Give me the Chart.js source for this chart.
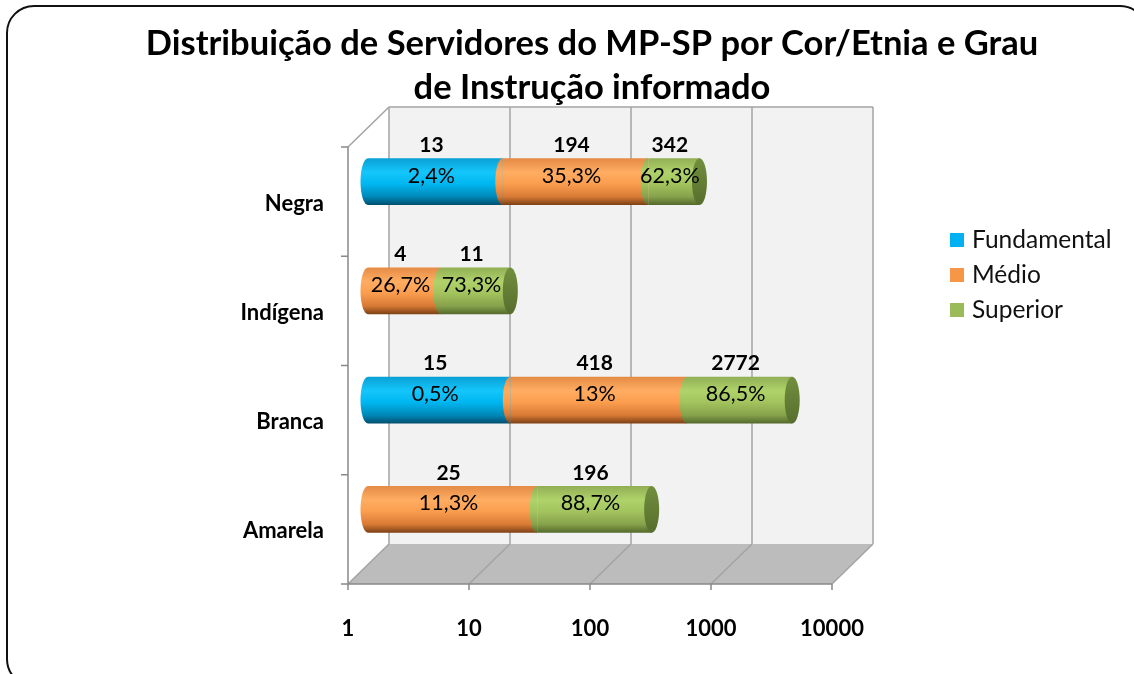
<!DOCTYPE html>
<html><head><meta charset="utf-8">
<script src="https://cdn.jsdelivr.net/npm/chart.js@4.4.1/dist/chart.umd.min.js"></script>
<style>html,body{margin:0;padding:0;background:#fff;overflow:hidden}#wrap{width:1134px;height:674px;position:relative}</style>
</head><body><div id="wrap"><canvas id="c" width="1134" height="674"></canvas></div>
<script>
const categories = ['Negra', 'Indígena', 'Branca', 'Amarela'];
const seriesNames = ['Fundamental', 'Médio', 'Superior'];
const fundamental = [13, null, 15, null];
const medio = [194, 4, 418, 25];
const superior = [342, 11, 2772, 196];
const fundamentalPct = ['2,4%', null, '0,5%', null];
const medioPct = ['35,3%', '26,7%', '13%', '11,3%'];
const superiorPct = ['62,3%', '73,3%', '86,5%', '88,7%'];
const xTicks = [1, 10, 100, 1000, 10000];
const titleLines = ['Distribuição de Servidores do MP-SP por Cor/Etnia e Grau', 'de Instrução informado'];

const FONT = 'Lato, "Open Sans", sans-serif';
const series = [fundamental, medio, superior];
const pcts = [fundamentalPct, medioPct, superiorPct];
const palette = [
  {legend: '#00b0f0', stops: ['#0a9fd4', '#14c6fb', '#00b6f0', '#0088b8', '#004e6c'], cap: ['#0a8ab8', '#00617f']},
  {legend: '#f79646', stops: ['#e48a45', '#ffad62', '#fb9d4e', '#d87a35', '#7a3f14'], cap: ['#c97a3a', '#8a4c1c']},
  {legend: '#9bbb59', stops: ['#91ae55', '#afd36a', '#a2c35d', '#86a24b', '#53682b'], cap: ['#728f3e', '#566e2d']}
];
const RX = 7.5;

function grad(ctx, d, top, h) {
  const g = ctx.createLinearGradient(0, top, 0, top + h);
  const s = palette[d].stops;
  g.addColorStop(0, s[0]);
  g.addColorStop(0.3, s[1]);
  g.addColorStop(0.55, s[2]);
  g.addColorStop(0.82, s[3]);
  g.addColorStop(1, s[4]);
  return g;
}
function bodyFill(chart, d, i) {
  const y = chart.scales && chart.scales.y, a = chart.chartArea;
  if (!y || !a) return palette[d].legend;
  const cy = y.getPixelForValue(i);
  const h = a.height / categories.length * 0.43;
  return grad(chart.ctx, d, cy - h / 2, h);
}
function line(ctx, x1, y1, x2, y2) { ctx.beginPath(); ctx.moveTo(x1, y1); ctx.lineTo(x2, y2); ctx.stroke(); }

const frame = {
  id: 'frame',
  beforeDraw(chart) {
    const ctx = chart.ctx;
    ctx.save();
    ctx.lineWidth = 2; ctx.strokeStyle = '#111';
    ctx.beginPath();
    ctx.roundRect(7, 6, 1140, 680, 27);
    ctx.stroke();
    ctx.restore();
  },
  beforeDatasetsDraw(chart) {
    const {ctx, chartArea: a, scales: {x, y}} = chart;
    const bl = a.left + 21, bt = a.top - 20, br = a.right + 21, bb = a.bottom - 20;
    const fl = a.left - 20, ft = a.top + 20, fr = a.right - 20, fb = a.bottom + 20;
    ctx.save();
    ctx.fillStyle = '#f2f2f2';
    ctx.fillRect(bl, bt, br - bl, bb - bt);
    ctx.fillStyle = '#bcbcbc';
    ctx.beginPath(); ctx.moveTo(fl, fb); ctx.lineTo(fr, fb); ctx.lineTo(br, bb); ctx.lineTo(bl, bb); ctx.closePath(); ctx.fill();
    ctx.strokeStyle = '#a3a3a3'; ctx.lineWidth = 1.5;
    xTicks.forEach(v => {
      const px = x.getPixelForValue(v);
      line(ctx, px + 21, bt, px + 21, bb);
      line(ctx, px - 20, fb, px + 21, bb);
    });
    line(ctx, bl, bt, br, bt);
    line(ctx, fl, ft, bl, bt);
    ctx.strokeStyle = '#888'; ctx.lineWidth = 1.5;
    line(ctx, fl, ft, fl, fb);
    line(ctx, fl, fb, fr, fb);
    for (let i = 0; i <= categories.length; i++) {
      const yy = y.getPixelForValue(i - 0.5) + 20;
      line(ctx, fl - 7, yy, fl, yy);
    }
    xTicks.forEach(v => {
      const px = x.getPixelForValue(v) - 20;
      line(ctx, px, fb, px, fb + 6);
    });
    ctx.restore();
  },
  afterDatasetsDraw(chart) {
    const ctx = chart.ctx;
    ctx.save();
    for (let d = 0; d < series.length; d++) {
      const meta = chart.getDatasetMeta(d);
      meta.data.forEach((el, i) => {
        if (series[d][i] == null) return;
        const p = el.getProps(['x', 'y', 'base', 'height'], true);
        ctx.fillStyle = grad(ctx, d, p.y - p.height / 2, p.height);
        ctx.beginPath();
        ctx.ellipse(p.base, p.y, RX, p.height / 2, 0, Math.PI / 2, Math.PI * 1.5);
        ctx.closePath();
        ctx.fill();
      });
    }
    categories.forEach((c, i) => {
      let last = -1;
      for (let d = 0; d < series.length; d++) if (series[d][i] != null) last = d;
      if (last < 0) return;
      const p = chart.getDatasetMeta(last).data[i].getProps(['x', 'y', 'height'], true);
      const g = ctx.createLinearGradient(0, p.y - p.height / 2, 0, p.y + p.height / 2);
      g.addColorStop(0, palette[last].cap[0]);
      g.addColorStop(1, palette[last].cap[1]);
      ctx.fillStyle = g;
      ctx.beginPath();
      ctx.ellipse(p.x, p.y, RX, p.height / 2, 0, 0, Math.PI * 2);
      ctx.fill();
    });
    ctx.fillStyle = '#000';
    ctx.textAlign = 'center';
    ctx.textBaseline = 'middle';
    for (let d = 0; d < series.length; d++) {
      const meta = chart.getDatasetMeta(d);
      meta.data.forEach((el, i) => {
        if (series[d][i] == null) return;
        const p = el.getProps(['x', 'y', 'base', 'height'], true);
        const cx = (p.x + p.base) / 2 - 4;
        ctx.font = 'bold 21px ' + FONT;
        ctx.fillText(String(series[d][i]), cx, p.y - p.height / 2 - 13);
        ctx.font = '21.5px ' + FONT;
        ctx.fillText(pcts[d][i], cx, p.y - 6);
      });
    }
    ctx.restore();
  },
  afterDraw(chart) {
    const ctx = chart.ctx;
    ctx.save();
    ctx.fillStyle = '#000';
    ctx.textAlign = 'center';
    ctx.textBaseline = 'alphabetic';
    ctx.font = 'bold 34.5px ' + FONT;
    ctx.fillText(titleLines[0], 592, 55);
    ctx.fillText(titleLines[1], 592, 99);
    ctx.textAlign = 'left';
    ctx.textBaseline = 'middle';
    ctx.font = '24.5px ' + FONT;
    seriesNames.forEach((n, k) => {
      const yy = 240 + k * 35;
      ctx.fillStyle = palette[k].legend;
      ctx.fillRect(950, yy - 7, 14, 14);
      ctx.fillStyle = '#111';
      ctx.fillText(n, 972, yy);
    });
    ctx.restore();
  }
};

const datasets = series.map((arr, d) => ({
  label: seriesNames[d],
  data: arr,
  backgroundColor: (c) => bodyFill(c.chart, d, c.dataIndex),
  borderWidth: 0,
  barPercentage: 0.43,
  categoryPercentage: 1,
  stack: 's'
}));

new Chart(document.getElementById('c'), {
  type: 'bar',
  data: {labels: categories, datasets},
  options: {
    indexAxis: 'y',
    responsive: false,
    animation: false,
    layout: {padding: {left: 0, top: 127, right: 282, bottom: 0}},
    plugins: {legend: {display: false}, title: {display: false}, tooltip: {enabled: false}},
    scales: {
      x: {
        type: 'logarithmic', stacked: true, min: 1, max: 10000, position: 'bottom',
        afterBuildTicks: s => { s.ticks = xTicks.map(v => ({value: v})); },
        afterFit: s => { s.height = 110; },
        grid: {display: false, drawTicks: false}, border: {display: false},
        ticks: {autoSkip: false, maxRotation: 0, minRotation: 0, padding: 52, labelOffset: -20, color: '#000',
          font: {family: FONT, size: 22, weight: 'bold'}, callback: v => String(v)}
      },
      y: {
        stacked: true,
        afterFit: s => { s.width = 368; },
        grid: {display: false, drawTicks: false}, border: {display: false},
        ticks: {padding: 44, labelOffset: 22, color: '#000', font: {family: FONT, size: 22, weight: 'bold'}}
      }
    }
  },
  plugins: [frame]
});
</script></body></html>
